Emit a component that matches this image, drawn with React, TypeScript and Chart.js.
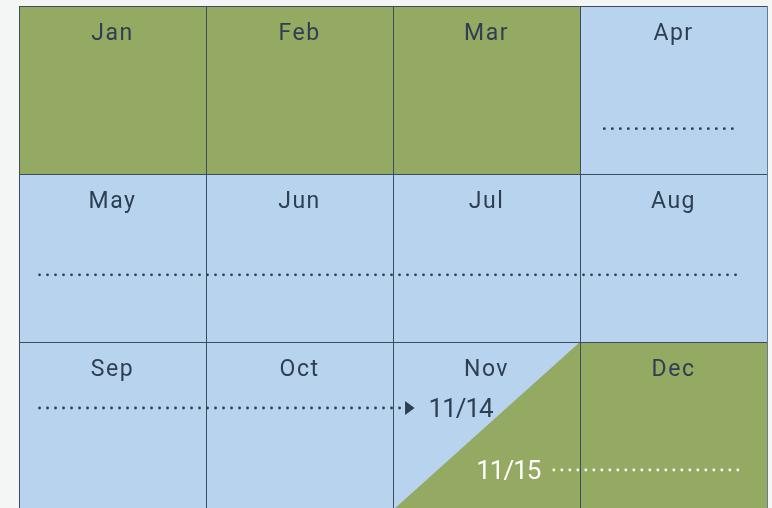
import React, { useEffect, useRef } from "react";
import { Chart, registerables } from "chart.js";

Chart.register(...registerables);

// ---- data ----
const months = ["Jan", "Feb", "Mar", "Apr", "May", "Jun", "Jul", "Aug", "Sep", "Oct", "Nov", "Dec"];
const cellStatus = ["done", "done", "done", "open", "open", "open", "open", "open", "open", "open", "split", "done"];
const columns = 4;
const rows = 3;

// dotted timelines: [xStart, xEnd, y] in grid units
const darkLineStarts = [3.13, 0.11, 0.11];
const darkLineEnds = [3.85, 3.85, 2.07];
const darkLineYs = [0.73, 1.6, 2.393];
const whiteLineStarts = [2.86];
const whiteLineEnds = [3.85];
const whiteLineYs = [2.762];

const markerLabels = ["11/14", "11/15"];
const markerX = [2.19, 2.445];
const markerY = [2.393, 2.762];

const GREEN = "#94aa63";
const BLUE = "#b7d3ee";
const INK = "#2e3f52";
const BORDER = "#3d4d60";

export default function App() {
  const ref = useRef<HTMLCanvasElement>(null);

  useEffect(() => {
    const canvas = ref.current!;
    const datasets: any[] = [];
    const addLine = (s: number, e: number, y: number, color: string) =>
      datasets.push({
        type: "line",
        data: [
          { x: s, y },
          { x: e, y },
        ],
        borderColor: color,
        borderWidth: 2.8,
        borderDash: [0, 8],
        borderCapStyle: "round",
        pointRadius: 0,
        fill: false,
      });
    darkLineStarts.forEach((s, i) => addLine(s, darkLineEnds[i], darkLineYs[i], INK));
    whiteLineStarts.forEach((s, i) => addLine(s, whiteLineEnds[i], whiteLineYs[i], "#ffffff"));

    const cellsPlugin = {
      id: "cells",
      beforeDraw(chart: any) {
        const ctx = chart.ctx;
        ctx.save();
        ctx.fillStyle = "#f4f6f6";
        ctx.fillRect(0, 0, chart.width, chart.height);
        ctx.restore();
      },
      beforeDatasetsDraw(chart: any) {
        const ctx = chart.ctx;
        const xs = chart.scales.x;
        const ys = chart.scales.y;
        ctx.save();
        months.forEach((m, i) => {
          const c = i % columns;
          const r = Math.floor(i / columns);
          const x0 = xs.getPixelForValue(c);
          const x1 = xs.getPixelForValue(c + 1);
          const y0 = ys.getPixelForValue(r);
          const y1 = ys.getPixelForValue(r + 1);
          const st = cellStatus[i];
          if (st === "split") {
            ctx.fillStyle = BLUE;
            ctx.fillRect(x0, y0, x1 - x0, y1 - y0);
            ctx.fillStyle = GREEN;
            ctx.beginPath();
            ctx.moveTo(x1, y0);
            ctx.lineTo(x1, y1);
            ctx.lineTo(x0, y1);
            ctx.closePath();
            ctx.fill();
          } else {
            ctx.fillStyle = st === "done" ? GREEN : BLUE;
            ctx.fillRect(x0, y0, x1 - x0, y1 - y0);
          }
        });
        // grid borders
        ctx.lineWidth = 1;
        ctx.strokeStyle = BORDER;
        for (let r = 0; r <= rows; r++) {
          const y = Math.round(ys.getPixelForValue(r)) + 0.5;
          ctx.beginPath();
          ctx.moveTo(xs.getPixelForValue(0), y);
          ctx.lineTo(xs.getPixelForValue(columns), y);
          ctx.stroke();
        }
        for (let c = 0; c <= columns; c++) {
          const x = Math.round(xs.getPixelForValue(c)) + 0.5;
          ctx.strokeStyle = c === columns ? "#6a7c90" : BORDER;
          ctx.beginPath();
          ctx.moveTo(x, ys.getPixelForValue(0));
          ctx.lineTo(x, ys.getPixelForValue(rows));
          ctx.stroke();
        }
        // month labels
        ctx.fillStyle = INK;
        ctx.font = "400 23px Roboto";
        ctx.textAlign = "center";
        ctx.textBaseline = "alphabetic";
        (ctx as any).letterSpacing = "1.5px";
        months.forEach((m, i) => {
          const c = i % columns;
          const r = Math.floor(i / columns);
          const x = xs.getPixelForValue(c + 0.5);
          const y = ys.getPixelForValue(r) + 34;
          ctx.fillText(m, x, y);
        });
        ctx.restore();
      },
      afterDatasetsDraw(chart: any) {
        const ctx = chart.ctx;
        const xs = chart.scales.x;
        const ys = chart.scales.y;
        ctx.save();
        // arrow head at the end of the Sep-Nov line
        const ax = xs.getPixelForValue(darkLineEnds[2]);
        const ay = ys.getPixelForValue(darkLineYs[2]);
        ctx.fillStyle = INK;
        ctx.beginPath();
        ctx.moveTo(ax - 1, ay - 7);
        ctx.lineTo(ax + 8.5, ay);
        ctx.lineTo(ax - 1, ay + 7);
        ctx.closePath();
        ctx.fill();
        // marker labels
        ctx.font = "400 26px Roboto";
        ctx.textAlign = "left";
        ctx.textBaseline = "alphabetic";
        (ctx as any).letterSpacing = "-1px";
        markerLabels.forEach((t, i) => {
          ctx.fillStyle = i === 0 ? INK : "#ffffff";
          ctx.fillText(t, xs.getPixelForValue(markerX[i]), ys.getPixelForValue(markerY[i]) + 9);
        });
        ctx.restore();
      },
    };

    const chart = new Chart(canvas, {
      type: "scatter",
      data: { datasets },
      options: {
        animation: false,
        responsive: false,
        events: [],
        layout: { padding: { left: 19, top: 6, right: 5, bottom: 2 } },
        plugins: { legend: { display: false }, tooltip: { enabled: false } },
        scales: {
          x: { type: "linear", min: 0, max: columns, display: false },
          y: { type: "linear", min: 0, max: rows, reverse: true, display: false },
        },
      },
      plugins: [cellsPlugin],
    } as any);
    return () => chart.destroy();
  }, []);

  return (
    <div style={{ position: "fixed", left: 0, top: 0, width: 772, height: 512 }}>
      <canvas ref={ref} width={772} height={512} style={{ display: "block" }} />
    </div>
  );
}
